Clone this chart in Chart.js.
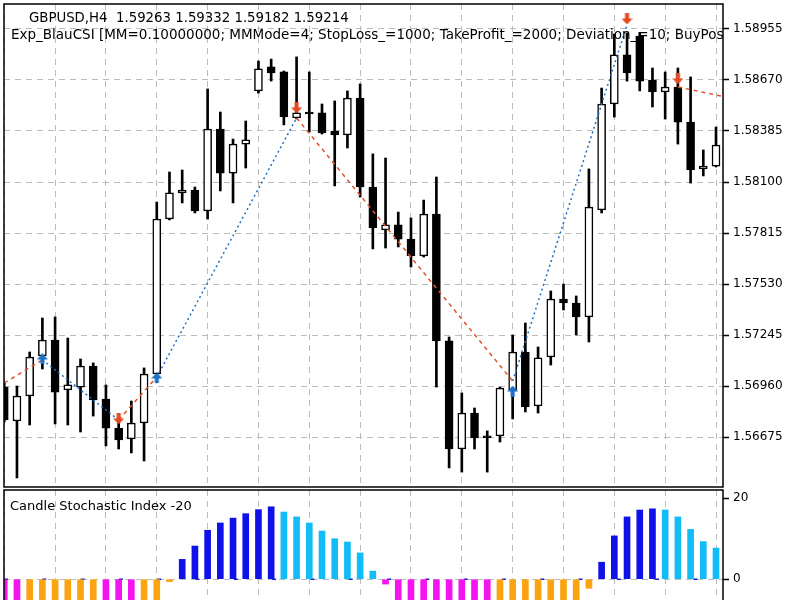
<!DOCTYPE html>
<html>
<head>
<meta charset="utf-8">
<title>GBPUSD,H4 Exp_BlauCSI</title>
<script src="https://cdn.jsdelivr.net/npm/chart.js@4.4.1/dist/chart.umd.min.js"></script>
<style>
  html, body { margin: 0; padding: 0; background: #fff; overflow: hidden; }
  #wrap { position: relative; width: 800px; height: 600px; overflow: hidden; }
  #main { position: absolute; left: 0; top: 0; }
  #ind { position: absolute; left: 0; top: 489px; }
</style>
</head>
<body>
<div id="wrap">
  <canvas id="main" width="800" height="489"></canvas>
  <canvas id="ind" width="800" height="126"></canvas>
</div>
<script>
// bars on screen, oldest on the left
const bars = [0,1,2,3,4,5,6,7,8,9,10,11,12,13,14,15,16,17,18,19,20,21,22,23,24,25,26,27,28,
  29,30,31,32,33,34,35,36,37,38,39,40,41,42,43,44,45,46,47,48,49,50,51,52,53,54,55,56];

const opens = [1.56954,1.56765,1.56904,1.57128,1.57217,1.56938,1.56954,1.57072,1.56887,1.56725,
  1.56664,1.56753,1.57027,1.57893,1.58039,1.58055,1.57938,1.58396,1.58150,1.58312,
  1.58609,1.58743,1.58715,1.58458,1.58491,1.58486,1.58385,1.58363,1.58569,1.58072,
  1.57832,1.57860,1.57781,1.57687,1.57921,1.57212,1.56608,1.56809,1.56681,1.56681,
  1.56938,1.57150,1.56848,1.57122,1.57446,1.57424,1.57346,1.57944,1.58536,1.58810,
  1.58916,1.58670,1.58603,1.58631,1.58435,1.58173,1.58189];
const highs = [1.56977,1.56960,1.57150,1.57340,1.57346,1.57228,1.57111,1.57089,1.56966,1.56759,
  1.56876,1.57061,1.57988,1.58156,1.58167,1.58072,1.58620,1.58491,1.58340,1.58441,
  1.58776,1.58787,1.58720,1.58799,1.58715,1.58536,1.58553,1.58609,1.58648,1.58257,
  1.58234,1.57932,1.57899,1.57999,1.58128,1.57234,1.56921,1.56837,1.56709,1.56954,
  1.57245,1.57312,1.57178,1.57491,1.57530,1.57463,1.58173,1.58625,1.58927,1.58933,
  1.58933,1.58737,1.58715,1.58737,1.58687,1.58279,1.58407];
const lows = [1.56759,1.56446,1.56742,1.57055,1.56748,1.56742,1.56703,1.56792,1.56625,1.56608,
  1.56586,1.56541,1.57016,1.57888,1.57983,1.57927,1.57893,1.58050,1.57983,1.58178,
  1.58597,1.58664,1.58419,1.58452,1.58379,1.58368,1.58078,1.58290,1.58016,1.57726,
  1.57731,1.57737,1.57625,1.57681,1.56954,1.56502,1.56479,1.56608,1.56479,1.56647,
  1.56776,1.56815,1.56809,1.57077,1.57385,1.57245,1.57206,1.57927,1.58463,1.58664,
  1.58609,1.58519,1.58452,1.58312,1.58094,1.58134,1.58184];
const closes = [1.56770,1.56904,1.57122,1.57217,1.56926,1.56966,1.57072,1.56882,1.56725,1.56658,
  1.56753,1.57027,1.57893,1.58039,1.58055,1.57938,1.58396,1.58150,1.58312,1.58335,
  1.58732,1.58709,1.58463,1.58486,1.58480,1.58374,1.58363,1.58569,1.58072,1.57843,
  1.57860,1.57781,1.57687,1.57921,1.57212,1.56608,1.56809,1.56670,1.56670,1.56949,
  1.57150,1.56843,1.57117,1.57446,1.57424,1.57346,1.57960,1.58536,1.58810,1.58709,
  1.58664,1.58603,1.58631,1.58435,1.58167,1.58189,1.58307];

const priceTicks = [1.56675, 1.56960, 1.57245, 1.57530, 1.57815, 1.58100, 1.58385, 1.58670, 1.58955];

// trades drawn by the expert (open -> close)
const tradeType       = ['sell', 'buy', 'sell', 'buy', 'sell', 'buy', 'sell'];
const tradeOpenBar    = [0, 3, 9, 12, 23, 40, 53];
const tradeOpenPrice  = [1.56977, 1.57106, 1.56770, 1.57010, 1.58458, 1.56988, 1.58631];
const tradeCloseBar   = [3, 9, 12, 23, 40, 49, 57.5];
const tradeClosePrice = [1.57106, 1.56770, 1.57010, 1.58458, 1.56988, 1.58977, 1.58564];

// signal arrows
const arrowBar   = [3, 9, 12, 23, 40, 49, 53];
const arrowPrice = [1.57111, 1.56776, 1.57005, 1.58514, 1.56932, 1.59011, 1.58676];
const arrowDir   = ['up', 'down', 'up', 'down', 'up', 'down', 'down'];

// Candle Stochastic Index histogram, colour buffer: 0 up+, 1 down+, 2 down-, 3 up-
const csiValue = [-14, -15, -14.5, -13, -12, -11, -10, -9.5, -10.5, -12, -13, -11, -7, -0.6,
  4.9, 8.2, 12.1, 13.9, 15.1, 16.2, 17.2, 17.9, 16.6, 15.4, 13.9, 11.9, 10.0, 9.2, 6.5, 2.0,
  -1.2, -6, -8, -9, -12, -15, -16, -17, -17.5, -17, -16, -15, -13, -11, -9, -7, -2.25,
  4.2, 10.7, 15.4, 17.1, 17.4, 17.1, 15.4, 12.3, 9.3, 7.7];
const csiColor = [2,2,3,3,3,3,3,3,2,2,2,3,3,3,
  0,0,0,0,0,0,0,0,1,1,1,1,1,1,1,1,
  2,2,2,2,2,2,2,2,2,3,3,3,3,3,3,3,3,
  0,0,0,0,0,1,1,1,1,1];
const csiTicks = [0, 20];
const csiLevels = [0];

const FONT = 'DejaVu Sans';
const xMin = -0.02, xMax = 56.55;
const gridColor = '#bcbcbc';
const gridDash = [6, 5];
const csiPalette = ['#1010e8', '#12bcf6', '#f414f0', '#fba412'];

function xAxis() {
  return {
    type: 'linear', min: xMin, max: xMax, offset: false,
    grid: { color: gridColor, drawTicks: false, offset: false },
    border: { display: false, dash: gridDash },
    ticks: { display: false },
    afterBuildTicks: s => { s.ticks = bars.filter(i => i % 4 === 0).map(v => ({ value: v })); },
    afterFit: s => { s.height = 0; s.paddingLeft = 0; s.paddingRight = 0; }
  };
}

// right price/value axis without the extra half-label padding
function fitRight(s) {
  s.width = 77;
  s.paddingTop = 0;
  s.paddingBottom = 0;
}

const framePlugin = {
  id: 'frame',
  afterDraw(chart) {
    const { ctx, chartArea: a } = chart;
    ctx.save();
    ctx.strokeStyle = '#000';
    ctx.lineWidth = 1.5;
    ctx.strokeRect(a.left, a.top, a.right - a.left, a.bottom - a.top);
    ctx.restore();
  }
};

function textPlugin(lines) {
  return {
    id: 'texts',
    afterDatasetsDraw(chart) {
      const { ctx, chartArea: a } = chart;
      ctx.save();
      ctx.beginPath();
      ctx.rect(a.left, a.top, a.right - a.left, a.bottom - a.top);
      ctx.clip();
      ctx.fillStyle = '#000';
      ctx.textBaseline = 'alphabetic';
      lines.forEach(l => {
        ctx.font = l.size + 'px "' + FONT + '"';
        ctx.fillText(l.text, l.x, l.y);
      });
      ctx.restore();
    }
  };
}

function makeArrow(color, up) {
  const c = document.createElement('canvas');
  c.width = 11; c.height = 11;
  const g = c.getContext('2d');
  g.fillStyle = color;
  g.beginPath();
  if (up) {
    g.moveTo(5.5, 0); g.lineTo(11, 6); g.lineTo(7.5, 6); g.lineTo(7.5, 11);
    g.lineTo(3.5, 11); g.lineTo(3.5, 6); g.lineTo(0, 6);
  } else {
    g.moveTo(5.5, 11); g.lineTo(11, 5); g.lineTo(7.5, 5); g.lineTo(7.5, 0);
    g.lineTo(3.5, 0); g.lineTo(3.5, 5); g.lineTo(0, 5);
  }
  g.closePath();
  g.fill();
  return c;
}
const upArrow = makeArrow('#1d6fc6', true);
const downArrow = makeArrow('#e2491f', false);

const tradeSets = tradeType.map((t, k) => ({
  type: 'line',
  data: [{ x: tradeOpenBar[k], y: tradeOpenPrice[k] }, { x: tradeCloseBar[k], y: tradeClosePrice[k] }],
  borderColor: t === 'buy' ? '#1d6fc6' : '#e0532b',
  borderWidth: 1.5,
  borderDash: t === 'buy' ? [2, 3] : [4, 4],
  pointRadius: 0,
  fill: false,
  order: 1,
  clip: 0
}));

new Chart(document.getElementById('main'), {
  type: 'bar',
  data: {
    datasets: [
      {
        label: 'wick',
        data: bars.map(i => ({ x: i, y: [lows[i], highs[i]] })),
        backgroundColor: '#000',
        barThickness: 2,
        grouped: false,
        order: 3,
        clip: 0
      },
      {
        label: 'body',
        data: bars.map(i => ({ x: i, y: [opens[i], closes[i]] })),
        backgroundColor: bars.map(i => closes[i] >= opens[i] ? '#ffffff' : '#000000'),
        borderColor: '#000',
        borderWidth: 1.5,
        borderSkipped: false,
        barThickness: 8,
        grouped: false,
        order: 2,
        clip: 0
      },
      ...tradeSets,
      {
        type: 'line',
        label: 'signals',
        showLine: false,
        data: arrowBar.map((b, k) => ({ x: b, y: arrowPrice[k] })),
        pointStyle: arrowDir.map(d => d === 'up' ? upArrow : downArrow),
        pointRadius: 5,
        order: 0,
        clip: 0
      }
    ]
  },
  options: {
    responsive: false,
    animation: false,
    devicePixelRatio: 1,
    layout: { autoPadding: false, padding: { left: 4, top: 4, right: 0, bottom: 2 } },
    plugins: { legend: { display: false }, tooltip: { enabled: false } },
    scales: {
      x: xAxis(),
      y: {
        position: 'right', min: 1.563956, max: 1.590947, beginAtZero: false,
        grid: { color: gridColor, tickColor: '#000', tickLength: 6, tickWidth: 1.5 },
        border: { display: false, dash: gridDash },
        ticks: { color: '#000', font: { family: FONT, size: 12 }, padding: 4, callback: v => v.toFixed(5) },
        afterBuildTicks: s => { s.ticks = priceTicks.map(v => ({ value: v })); },
        afterFit: fitRight
      }
    }
  },
  plugins: [framePlugin, textPlugin([
    { text: 'GBPUSD,H4  1.59263 1.59332 1.59182 1.59214', x: 29, y: 21.5, size: 13.3 },
    { text: 'Exp_BlauCSI [MM=0.10000000; MMMode=4; StopLoss_=1000; TakeProfit_=2000; Deviation_=10; BuyPosOpen=true; SellPosOpen=true; BuyPosClose=true; SellPosClose=true]', x: 11, y: 38.5, size: 13.5 }
  ])]
});

new Chart(document.getElementById('ind'), {
  type: 'bar',
  data: {
    datasets: [
      {
        label: 'CSI',
        data: bars.map(i => ({ x: i, y: csiValue[i] })),
        backgroundColor: bars.map(i => csiPalette[csiColor[i]]),
        barThickness: 6,
        grouped: false,
        order: 1,
        clip: 0
      },
      ...csiLevels.map(v => ({
        type: 'line',
        data: [{ x: xMin, y: v }, { x: xMax, y: v }],
        borderColor: '#1a1ad0',
        borderWidth: 1.5,
        borderDash: [4, 34.3],
        pointRadius: 0,
        order: 2,
        clip: 0
      }))
    ]
  },
  options: {
    responsive: false,
    animation: false,
    devicePixelRatio: 1,
    layout: { autoPadding: false, padding: { left: 4, top: 1, right: 0, bottom: 0 } },
    plugins: { legend: { display: false }, tooltip: { enabled: false } },
    scales: {
      x: xAxis(),
      y: {
        position: 'right', min: -8.85, max: 22.05, beginAtZero: false,
        grid: {
          color: c => (c.tick && c.tick.value === 0) ? gridColor : 'rgba(0,0,0,0)',
          tickColor: '#000', tickLength: 6, tickWidth: 1.5
        },
        border: { display: false, dash: gridDash },
        ticks: { color: '#000', font: { family: FONT, size: 12 }, padding: 4, callback: v => String(v) },
        afterBuildTicks: s => { s.ticks = csiTicks.map(v => ({ value: v })); },
        afterFit: fitRight
      }
    }
  },
  plugins: [framePlugin, textPlugin([
    { text: 'Candle Stochastic Index -20', x: 10, y: 21, size: 13 }
  ])]
});
</script>
</body>
</html>
